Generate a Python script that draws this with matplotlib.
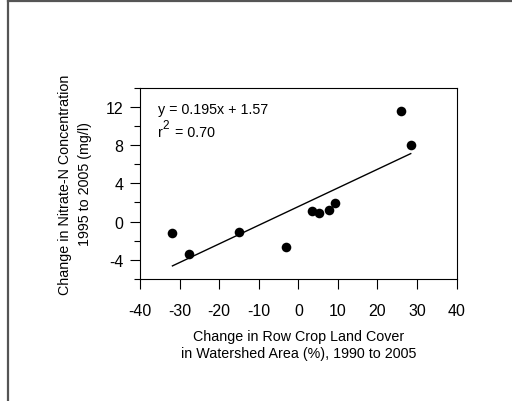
import matplotlib
matplotlib.use("Agg")
import matplotlib.pyplot as plt
from matplotlib.lines import Line2D
from matplotlib.ticker import MultipleLocator
from matplotlib.transforms import offset_copy
import numpy as np

plt.rcParams['font.family'] = ['Liberation Sans', 'DejaVu Sans']
plt.rcParams['axes.unicode_minus'] = False

# Data
row_crop_change = [-31.8, -27.5, -15.0, -3.1, 3.4, 5.2, 7.8, 9.2, 25.9, 28.4]
nitrate_change = [-1.2, -3.4, -1.1, -2.7, 1.1, 0.9, 1.2, 1.9, 11.6, 8.0]
slope = 0.195
intercept = 1.57
r2_text = "0.70"
xticks = [-40, -30, -20, -10, 0, 10, 20, 30, 40]
yticks = [-4, 0, 4, 8, 12]

fig = plt.figure(figsize=(5.12, 4.02), dpi=100)
ax = fig.add_axes([0.2734, 0.3035, 0.6185, 0.4759])

ax.scatter(row_crop_change, nitrate_change, s=48, color='black', zorder=3, linewidths=0)
xl = np.array([min(row_crop_change), max(row_crop_change)])
ax.plot(xl, slope * xl + intercept, color='black', lw=1)

ax.set_xlim(-40, 40)
ax.set_ylim(-6, 14)
ax.set_xticks(xticks)
ax.set_yticks(yticks)
ax.yaxis.set_minor_locator(MultipleLocator(2))
ax.tick_params(axis='both', which='major', direction='out', length=7, width=0.8,
               labelsize=11.5, colors='black')
ax.tick_params(axis='x', which='major', pad=10)
ax.tick_params(axis='y', which='major', pad=5)
ax.tick_params(axis='y', which='minor', direction='out', length=4.5, width=0.8)
for sp in ax.spines.values():
    sp.set_linewidth(0.8)

ax.set_xlabel("Change in Row Crop Land Cover\nin Watershed Area (%), 1990 to 2005",
              fontsize=10.3, labelpad=8, linespacing=1.3)
ax.set_ylabel("Change in Nitrate-N Concentration\n1995 to 2005 (mg/l)",
              fontsize=10.3, labelpad=10, linespacing=1.5)

ax.text(0.057, 0.89, "y = %.3fx + %.2f" % (slope, intercept), transform=ax.transAxes,
        fontsize=10.3, va='center', ha='left')

# r^2 label built from pieces so the superscript is large like the reference
bx, by = 0.057, 0.7475
ax.text(bx, by, "r", transform=ax.transAxes, fontsize=10.3, va='baseline', ha='left')
ax.text(bx, by, "2", transform=offset_copy(ax.transAxes, fig=fig, x=4.5, y=8, units='dots'),
        fontsize=8.5, va='baseline', ha='left')
ax.text(bx, by, "= " + r2_text, transform=offset_copy(ax.transAxes, fig=fig, x=17, y=0, units='dots'),
        fontsize=10.3, va='baseline', ha='left')

# page border lines (left and top)
fig.add_artist(Line2D([7.5/512, 7.5/512], [0, 1 - 1.5/402], transform=fig.transFigure,
                      color='#555555', lw=1.6))
fig.add_artist(Line2D([7.5/512, 1], [1 - 1.5/402, 1 - 1.5/402], transform=fig.transFigure,
                      color='#555555', lw=1.6))

fig.savefig("out.png", dpi=100)
